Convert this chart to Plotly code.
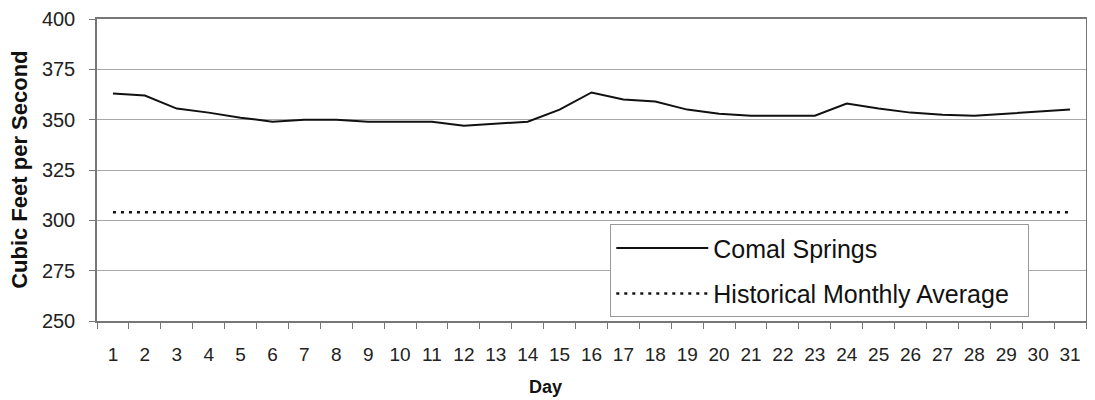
import plotly.graph_objects as go

days = [str(d) for d in range(1, 32)]
comal_springs = [363, 362, 355.5, 353.5, 351, 349, 350, 350, 349, 349, 349, 347, 348, 349, 355, 363.5,
                 360, 359, 355, 353, 352, 352, 352, 358, 355.5, 353.5, 352.5, 352, 353, 354, 355]
historical_avg = [304] * 31
y_ticks = [250, 275, 300, 325, 350, 375, 400]

FONT = "Liberation Sans, Arial, sans-serif"
NB = "\u00a0"

fig = go.Figure()
fig.add_trace(go.Scatter(x=days, y=comal_springs, mode="lines", name="Comal Springs",
                         legendgroup="a", line=dict(color="#111111", width=2)))
fig.add_trace(go.Scatter(x=days, y=historical_avg, mode="lines", name="Historical Monthly Average" + NB * 2,
                         legendgroup="b", line=dict(color="#111111", width=2.5, dash="3px,5px")))

# page body has an 8px margin; figure sized so plot area lands where the reference has it
fig.update_layout(
    width=1087, height=392,
    margin=dict(l=89, r=9, t=11, b=79, autoexpand=False),
    paper_bgcolor="white", plot_bgcolor="white",
    font=dict(family=FONT, color="#222222", size=20),
    showlegend=True,
    legend=dict(x=0.519, y=0.32, xanchor="left", yanchor="top",
                bgcolor="white", bordercolor="#999999", borderwidth=1,
                font=dict(size=25, family=FONT, color="#111111"),
                itemwidth=92, tracegroupgap=10),
    annotations=[
        dict(text="<b>Cubic Feet per Second</b>", textangle=-90, xref="paper", yref="paper",
             x=-0.079, y=0.5, xanchor="center", yanchor="middle", showarrow=False,
             font=dict(size=22, family=FONT, color="#111111")),
        dict(text="<b>Day</b>", xref="paper", yref="paper",
             x=0.453, y=-0.22, xanchor="center", yanchor="middle", showarrow=False,
             font=dict(size=18, family=FONT, color="#111111")),
    ],
)

fig.update_xaxes(type="category", categoryorder="array", categoryarray=days, range=[-0.5, 30.5],
                 automargin=False, ticklabeloverflow="allow",
                 showgrid=False, showline=True, linecolor="#777777", linewidth=1.5, mirror=True,
                 ticks="outside", tickson="boundaries", ticklen=6, tickcolor="#777777",
                 ticklabelstandoff=15, tickfont=dict(size=19, family=FONT, color="#222222"),
                 zeroline=False)
fig.update_yaxes(range=[250, 400], tickvals=y_ticks, showgrid=True, gridcolor="#a8a8a8", gridwidth=1.2,
                 automargin=False, ticklabeloverflow="allow",
                 showline=True, linecolor="#777777", linewidth=1.5, mirror=True,
                 ticks="outside", ticklen=6, tickcolor="#777777",
                 ticklabelstandoff=10, tickfont=dict(size=20, family=FONT, color="#222222"),
                 zeroline=False)

fig.write_html("out.html")
